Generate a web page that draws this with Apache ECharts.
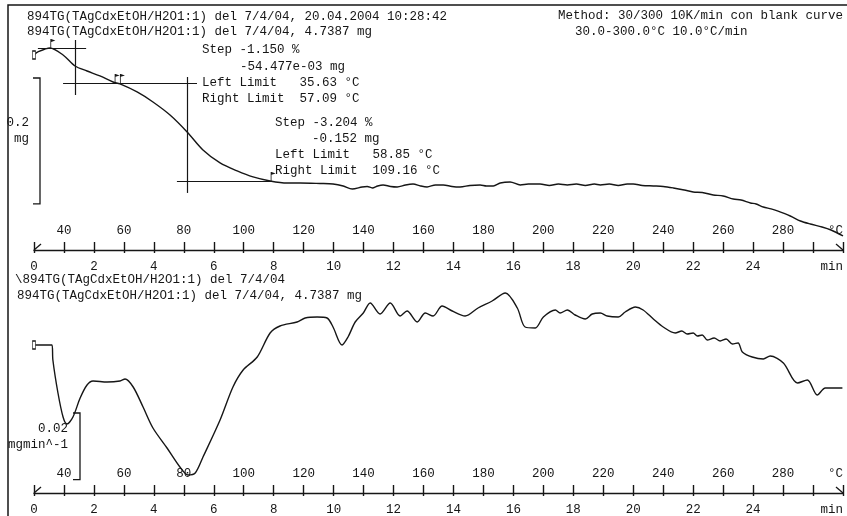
<!DOCTYPE html>
<html><head><meta charset="utf-8">
<script src="https://cdn.jsdelivr.net/npm/echarts@6/dist/echarts.min.js"></script>
<style>html,body{margin:0;padding:0;background:#fff}#c{width:847px;height:516px}</style>
</head><body><div id="c"></div>
<script>
// ---------- data (time in min, TG in mg, DTG in mg/min) ----------
const tgTime = [0, 0.13, 0.53, 0.97, 1.37, 1.77, 2.20, 2.64, 2.87, 3.44, 3.97, 4.54, 5.11, 5.64, 6.21, 6.78, 7.31, 7.88, 8.45, 8.88, 9.55, 9.98,
  10.32, 10.62, 10.95, 11.12, 11.29, 11.47, 11.65, 11.90, 12.12, 12.40, 12.65, 12.90, 13.12, 13.40, 13.66, 13.95, 14.22, 14.55, 14.89, 15.10, 15.33, 15.56, 15.89,
  16.23, 16.50, 16.89, 17.20, 17.50, 17.80, 18.10, 18.40, 18.70, 18.90, 19.20, 19.50, 19.80, 20.00, 20.30, 20.67, 21.00, 21.34, 21.70, 22.00, 22.30, 22.67,
  23.00, 23.34, 23.60, 23.91, 24.10, 24.34, 24.60, 24.81, 25.24, 25.58, 25.91, 26.30, 26.60, 27.00];
const tgMass = [4.7387, 4.7435, 4.7498, 4.7387, 4.7212, 4.7133, 4.7054, 4.6958, 4.6927, 4.6800, 4.6641, 4.6434, 4.6165, 4.5879, 4.5673, 4.5546, 4.5451, 4.5387, 4.5355, 4.5355, 4.5347, 4.5339,
  4.5308, 4.5260, 4.5292, 4.5300, 4.5276, 4.5308, 4.5324, 4.5300, 4.5292, 4.5324, 4.5339, 4.5308, 4.5292, 4.5324, 4.5324, 4.5300, 4.5292, 4.5316, 4.5324, 4.5308, 4.5308, 4.5355, 4.5371,
  4.5324, 4.5339, 4.5339, 4.5316, 4.5339, 4.5324, 4.5339, 4.5316, 4.5339, 4.5324, 4.5339, 4.5316, 4.5339, 4.5339, 4.5316, 4.5308, 4.5300, 4.5276, 4.5244, 4.5212, 4.5204, 4.5165,
  4.5149, 4.5101, 4.5085, 4.5038, 4.5022, 4.4974, 4.4943, 4.4911, 4.4831, 4.4752, 4.4704, 4.4657, 4.4609, 4.4514];

const dtgTime = [0, 0.60, 0.63, 0.80, 0.97, 1.10, 1.30, 1.54, 1.77, 1.97, 2.44, 2.87, 3.04, 3.31, 3.64, 3.97, 4.44, 4.87, 5.14, 5.38, 5.64, 6.21, 6.64, 6.98, 7.45, 7.88,
  8.21, 8.78, 9.05, 9.45, 9.78, 9.98, 10.28, 10.48, 10.72, 10.99, 11.22, 11.55, 11.89, 12.22, 12.45, 12.79, 13.06, 13.32, 13.62, 13.96, 14.39, 14.82, 15.29, 15.73,
  16.13, 16.39, 16.73, 17.00, 17.40, 17.56, 17.80, 18.06, 18.40, 18.63, 18.90, 19.13, 19.50, 19.73, 20.07, 20.33, 20.67, 21.00, 21.40, 21.62, 21.80, 22.00, 22.14, 22.30, 22.47, 22.70, 22.90,
  23.10, 23.31, 23.50, 23.64, 23.97, 24.34, 24.57, 25.01, 25.48, 25.81, 26.14, 26.41, 26.98];
const dtgRate = [0, 0, -0.0045, -0.0144, -0.0216, -0.0237, -0.0216, -0.0159, -0.0120, -0.0108, -0.0111, -0.0108, -0.0102, -0.0126, -0.0186, -0.0249, -0.0309, -0.0366, -0.0390, -0.0384, -0.0336, -0.0225, -0.0126, -0.0075, -0.0036, 0.0036,
  0.0057, 0.0069, 0.0081, 0.0084, 0.0081, 0.0054, 0.0000, 0.0024, 0.0069, 0.0096, 0.0126, 0.0093, 0.0126, 0.0087, 0.0102, 0.0069, 0.0096, 0.0087, 0.0117, 0.0102, 0.0087, 0.0111, 0.0132, 0.0156,
  0.0111, 0.0054, 0.0051, 0.0084, 0.0105, 0.0096, 0.0105, 0.0090, 0.0078, 0.0093, 0.0096, 0.0087, 0.0084, 0.0099, 0.0114, 0.0105, 0.0078, 0.0054, 0.0036, 0.0042, 0.0033, 0.0036, 0.0027, 0.0030, 0.0015, 0.0021, 0.0012,
  0.0018, 0.0003, 0.0006, -0.0021, -0.0036, -0.0042, -0.0033, -0.0054, -0.0114, -0.0105, -0.0150, -0.0129, -0.0129];

// evaluation (step) construction lines: [t1, m1, t2, m2]
const stepLines = [
  [0.13, 4.7498, 1.74, 4.7498],
  [1.37, 4.7625, 1.37, 4.6752],
  [0.97, 4.6943, 5.44, 4.6943],
  [5.11, 4.7038, 5.11, 4.5197],
  [4.77, 4.5387, 7.92, 4.5387]
];
const limitTime = [0.563, 2.709, 2.885, 7.916];
const limitMass = [4.7498, 4.6943, 4.6943, 4.5387];

// tick labels
const minuteLabels = ['0','2','4','6','8','10','12','14','16','18','20','22','24'];
const tempLabels = ['40','60','80','100','120','140','160','180','200','220','240','260','280'];
const minuteUnit = 'min', tempUnit = '°C';

// scale bars
const tgBar = {top: 4.7022, size: 0.2, label: ['0.2', 'mg']};
const dtgBar = {top: -0.0204, size: 0.02, label: ['0.02', 'mgmin^-1']};

const headerLines = [
  '894TG(TAgCdxEtOH/H2O1:1) del 7/4/04, 20.04.2004 10:28:42',
  '894TG(TAgCdxEtOH/H2O1:1) del 7/4/04, 4.7387 mg'
];
const methodLines = ['Method: 30/300 10K/min con blank curve', '30.0-300.0°C 10.0°C/min'];
const step1Text = ['Step -1.150 %', '-54.477e-03 mg', 'Left Limit   35.63 °C', 'Right Limit  57.09 °C'];
const step2Text = ['Step -3.204 %', '-0.152 mg', 'Left Limit   58.85 °C', 'Right Limit  109.16 °C'];
const dtgHeader = ['\\894TG(TAgCdxEtOH/H2O1:1) del 7/4/04', '894TG(TAgCdxEtOH/H2O1:1) del 7/4/04, 4.7387 mg'];

// ---------- chart ----------
const FONT = '"Liberation Mono", "DejaVu Sans Mono", monospace';
const INK = '#161616';
const FS = 12.5;
const chart = echarts.init(document.getElementById('c'));

function timeAxes(gi, off) {
  return [{
    type: 'value', gridIndex: gi, min: 0, max: 27, interval: 1, position: 'bottom', offset: off,
    axisLine: {show: true, onZero: false, lineStyle: {color: INK, width: 1.4}},
    axisTick: {show: true, length: 3, lineStyle: {color: INK, width: 1.4}},
    splitLine: {show: false},
    axisLabel: {show: true, margin: 10, color: INK, fontFamily: FONT, fontSize: FS, showMinLabel: true, showMaxLabel: true, alignMaxLabel: 'right',
      formatter: v => v === 27 ? minuteUnit : (v % 2 === 0 ? (minuteLabels[v / 2] || '') : '')}
  }, {
    type: 'value', gridIndex: gi, min: 0, max: 27, interval: 1, position: 'bottom', offset: off,
    axisLine: {show: false, onZero: false},
    axisTick: {show: true, inside: true, length: 8, lineStyle: {color: INK, width: 1.4}},
    splitLine: {show: false},
    axisLabel: {show: true, inside: true, margin: 13, color: INK, fontFamily: FONT, fontSize: FS, showMinLabel: true, showMaxLabel: true, alignMaxLabel: 'right',
      formatter: v => v === 27 ? tempUnit : (v % 2 === 1 ? (tempLabels[(v - 1) / 2] || '') : '')}
  }];
}

const flagPath = 'path://M0,0h0.8v10h-0.8z M0.8,0 L5,1.6 L0.8,3.2z';
const lineStyle = {color: INK, width: 1.4};

const option = {
  animation: false,
  backgroundColor: '#fff',
  grid: [
    {left: 34, right: 4, top: 40, height: 200},
    {left: 34, right: 4, top: 285, height: 200}
  ],
  xAxis: [...timeAxes(0, 10), ...timeAxes(1, 8)],
  yAxis: [
    {type: 'value', gridIndex: 0, min: 4.445, max: 4.7625, show: false},
    {type: 'value', gridIndex: 1, min: -0.042, max: 0.018, show: false}
  ],
  series: [{
    type: 'line', xAxisIndex: 0, yAxisIndex: 0, showSymbol: false, smooth: 0.3, lineStyle,
    data: tgTime.map((t, i) => [t, tgMass[i]]),
    markLine: {
      silent: true, symbol: 'none', label: {show: false}, lineStyle: {color: INK, width: 1.2, type: 'solid'},
      data: stepLines.map(s => [{coord: [s[0], s[1]]}, {coord: [s[2], s[3]]}])
    },
    markPoint: {
      silent: true, label: {show: false},
      data: [
        {coord: [tgTime[0], tgMass[0]], symbol: 'rect', symbolSize: [3, 8], itemStyle: {color: '#fff', borderColor: INK, borderWidth: 1}},
        ...limitTime.map((t, i) => ({coord: [t, limitMass[i]], symbol: flagPath, symbolSize: [5, 9], symbolOffset: [2, -4.5], itemStyle: {color: INK}}))
      ]
    }
  }, {
    type: 'line', xAxisIndex: 2, yAxisIndex: 1, showSymbol: false, smooth: 0.3, lineStyle,
    data: dtgTime.map((t, i) => [t, dtgRate[i]]),
    markPoint: {
      silent: true, label: {show: false},
      data: [{coord: [dtgTime[0], dtgRate[0]], symbol: 'rect', symbolSize: [3, 8], itemStyle: {color: '#fff', borderColor: INK, borderWidth: 1}}]
    }
  }]
};
chart.setOption(option);

// ---------- texts and scale bars ----------
function txt(s, x, y, align) {
  return {type: 'text', x, y, silent: true, style: {text: s, font: FS + 'px ' + FONT, fill: INK, align: align || 'left', verticalAlign: 'middle'}};
}
function line(points, w) {
  return {type: 'polyline', silent: true, shape: {points}, style: {stroke: INK, lineWidth: w || 1.3, fill: null}};
}
const g = [];
g.push(line([[847, 5], [8, 5], [8, 516]], 1.5));
g.push(txt(headerLines[0], 27, 17), txt(headerLines[1], 27, 32));
g.push(txt(methodLines[0], 558, 16), txt(methodLines[1], 575, 32));
g.push(txt(step1Text[0], 202, 50), txt(step1Text[1], 240, 67), txt(step1Text[2], 202, 83), txt(step1Text[3], 202, 99));
g.push(txt(step2Text[0], 275, 123), txt(step2Text[1], 312, 139), txt(step2Text[2], 275, 155), txt(step2Text[3], 275, 171));
g.push(txt(dtgHeader[0], 15, 280), txt(dtgHeader[1], 17, 296));

// scale bars positioned through the y scales
const tb0 = chart.convertToPixel({yAxisIndex: 0}, tgBar.top);
const tb1 = chart.convertToPixel({yAxisIndex: 0}, tgBar.top - tgBar.size);
g.push(line([[33, tb0], [40, tb0], [40, tb1], [33, tb1]]));
g.push(txt(tgBar.label[0], 29, 123, 'right'), txt(tgBar.label[1], 29, 139, 'right'));
const db0 = chart.convertToPixel({yAxisIndex: 1}, dtgBar.top);
const db1 = chart.convertToPixel({yAxisIndex: 1}, dtgBar.top - dtgBar.size);
g.push(line([[73, db0], [80, db0], [80, db1], [73, db1]]));
g.push(txt(dtgBar.label[0], 68, 429, 'right'), txt(dtgBar.label[1], 68, 445, 'right'));

// axis start / end marks
[250, 493].forEach(y => {
  g.push(line([[34, y], [41, y - 6]], 1.3));
  g.push(line([[836, y - 6], [843, y]], 1.3));
});
chart.setOption({graphic: g});
</script>
</body></html>
